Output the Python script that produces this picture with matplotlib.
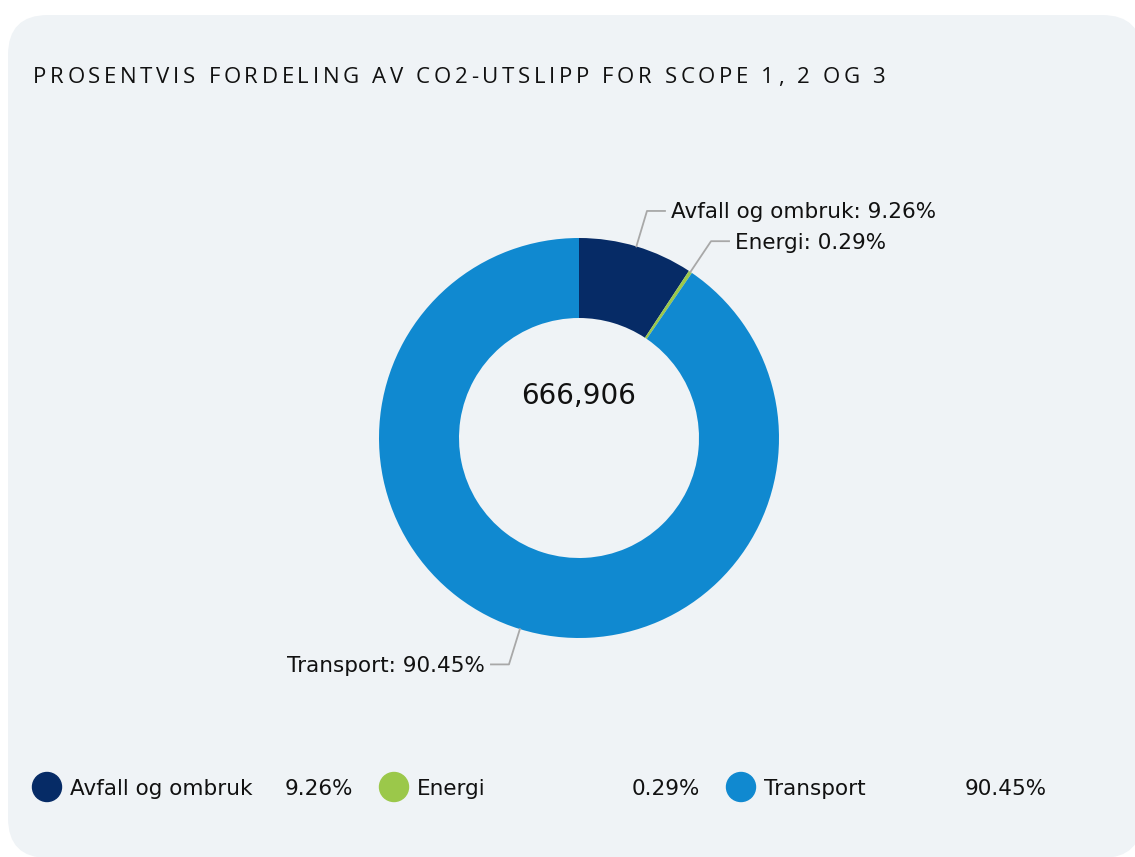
import numpy as np
import matplotlib.pyplot as plt
from matplotlib.patches import FancyBboxPatch, Circle
from matplotlib.font_manager import FontProperties

# data
categories = ["Avfall og ombruk", "Energi", "Transport"]
shares = [9.26, 0.29, 90.45]
colors = ["#062b66", "#9bc84a", "#1089d0"]
total_label = "666,906"
title = "PROSENTVIS FORDELING AV CO2-UTSLIPP FOR SCOPE 1, 2 OG 3"

W, H = 1135, 857
fig = plt.figure(figsize=(W / 100, H / 100), dpi=100)
fig.patch.set_facecolor("white")
ax = fig.add_axes([0, 0, 1, 1])
ax.set_axis_off()


def py(y):  # pixel row -> data y
    return H - y


# rounded panel background
pad = 40
panel = FancyBboxPatch((8 + pad, py(858) + pad), 1142 - 8 - 2 * pad, 858 - 15 - 2 * pad,
                       boxstyle=f"round,pad={pad}", facecolor="#eff3f6", edgecolor="none", zorder=0)
ax.add_patch(panel)

# donut
cx, cy, R = 579, py(438), 200
wedges, _ = ax.pie(shares, colors=colors, startangle=90, counterclock=False,
                   radius=R, center=(cx, cy), wedgeprops=dict(width=80, linewidth=0))
for w in wedges:
    w.set_zorder(2)
ax.set_xlim(0, W)
ax.set_ylim(0, H)
ax.set_aspect("auto")

ax.text(cx, py(404), total_label, ha="center", va="baseline", fontsize=20, color="#111111")

# leader lines + labels
for w, name, s in zip(wedges, categories, shares):
    ang = np.deg2rad((w.theta1 + w.theta2) / 2)
    side = 1 if np.cos(ang) > 0 else -1
    x0, y0 = cx + R * np.cos(ang), cy + R * np.sin(ang)
    x1, y1 = cx + 237 * np.cos(ang), cy + 237 * np.sin(ang)
    x2 = x1 + side * 18
    ax.plot([x0, x1, x2], [y0, y1, y1], color="#a8a8a8", lw=1.3, zorder=3)
    ax.text(x2 + side * 6, y1 - 7.5, f"{name}: {s:.2f}%", ha="left" if side > 0 else "right",
            va="baseline", fontsize=15.5, color="#111111")

# legend
for i, (name, s, c) in enumerate(zip(categories, shares, colors)):
    x = 47 + i * 347
    ax.add_patch(Circle((x, py(787)), 14.5, color=c, zorder=3))
    ax.text(x + 23, py(795), name, va="baseline", fontsize=15.5, color="#111111")
    ax.text(x + 306, py(795), f"{s:.2f}%", ha="right", va="baseline", fontsize=15.5, color="#111111")

# letter-spaced title
fig.canvas.draw()
r = fig.canvas.get_renderer()
fp = FontProperties(family=["Open Sans", "DejaVu Sans"], size=16)


def tw(s):
    return r.get_text_width_height_descent(s, fp, ismath=False)[0]


base = tw("HH")
widths = [tw("H" + c + "H") - base for c in title]
gap = (852 - sum(widths)) / (len(title) - 1)
x = 33
for c, wd in zip(title, widths):
    ax.text(x, py(83), c, fontproperties=fp, ha="left", va="baseline", color="#111111")
    x += wd + gap

fig.savefig("out.png", dpi=100, facecolor="white")
